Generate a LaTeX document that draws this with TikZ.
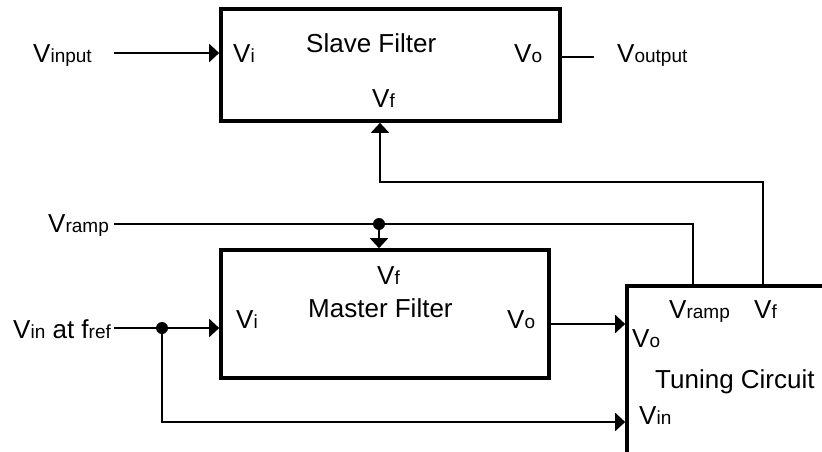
\documentclass[tikz,border=0pt]{standalone}
\usepackage{fontspec}
\setmainfont{Liberation Sans}
\usetikzlibrary{arrows.meta}
\newcommand\sbs[1]{{\fontsize{19}{20}\selectfont #1}}
\tikzset{
  blk/.style={draw,line width=3.6pt,rectangle,inner sep=0pt},
  conn/.style={line width=1.9pt},
  arr/.style={conn,-{Triangle[length=10pt,width=18pt]}},
  lbl/.style={anchor=base west,inner sep=0pt,font=\fontsize{26}{30}\selectfont},
}
\begin{document}
\begin{tikzpicture}[x=1pt,y=-1pt]
\clip (0,0) rectangle (822,452);
\fill[white] (0,0) rectangle (822,452);
% boxes
\node[blk,minimum width=339pt,minimum height=112pt] (slave) at (390.5,65) {};
\node[blk,minimum width=328pt,minimum height=128pt] (master) at (385,314) {};
\node[blk,minimum width=223pt,minimum height=194pt] (tuning) at (738.5,383) {};
% labels: slave
\node[lbl] (tVinput) at (33,63) {V\sbs{input}};
\node[lbl] (tSVi) at (233,63) {V\sbs{i}};
\node[lbl] (tSlave) at (306,53) {Slave Filter};
\node[lbl] (tSVo) at (514,63) {V\sbs{o}};
\node[lbl] (tVoutput) at (617,63) {V\sbs{output}};
\node[lbl] (tSVf) at (372,107) {V\sbs{f}};
% labels: master
\node[lbl] (tVramp) at (48,232) {V\sbs{ramp}};
\node[lbl] (tMVf) at (377,284) {V\sbs{f}};
\node[lbl] (tMaster) at (308,317) {Master Filter};
\node[lbl] (tMVi) at (236,328) {V\sbs{i}};
\node[lbl] (tVin) at (13,338) {V\sbs{in} at f\sbs{ref}};
\node[lbl] (tMVo) at (507,328) {V\sbs{o}};
% labels: tuning
\node[lbl] (tTVramp) at (669,318) {V\sbs{ramp}};
\node[lbl] (tTVf) at (754,318) {V\sbs{f}};
\node[lbl] (tTVo) at (632,347) {V\sbs{o}};
\node[lbl] (tTuning) at (655,388) {Tuning Circuit};
\node[lbl] (tTVin) at (639,424) {V\sbs{in}};
% coordinates
\coordinate (inE) at (114,53);
\coordinate (outE) at (594,57);
\coordinate (fbx) at (763,182);
\coordinate (sfx) at (380,182);
\coordinate (rampW) at (114,224);
\coordinate (rdot) at (379,224);
\coordinate (rampE) at (693,224);
\coordinate (vinW) at (114,328);
\coordinate (vdot) at (162,328);
\coordinate (vbot) at (162,422);
\coordinate (mvo) at (549,324);
% connectors
\draw[arr] (inE) -- (inE -| slave.west);
\draw[conn] (slave.east |- outE) -- (outE);
\draw[arr] (tuning.north -| fbx) -- (fbx) -- (sfx) -- (slave.south -| sfx);
\draw[conn] (rampW) -- (rampE) -- (tuning.north -| rampE);
\draw[arr] (rdot) -- (master.north -| rdot);
\fill (rdot) circle (6);
\draw[arr] (vinW) -- (vinW -| master.west);
\draw[arr] (vdot) -- (vbot) -- (vbot -| tuning.west);
\fill (vdot) circle (6);
\draw[arr] (master.east |- mvo) -- (tuning.west |- mvo);
\end{tikzpicture}
\end{document}
